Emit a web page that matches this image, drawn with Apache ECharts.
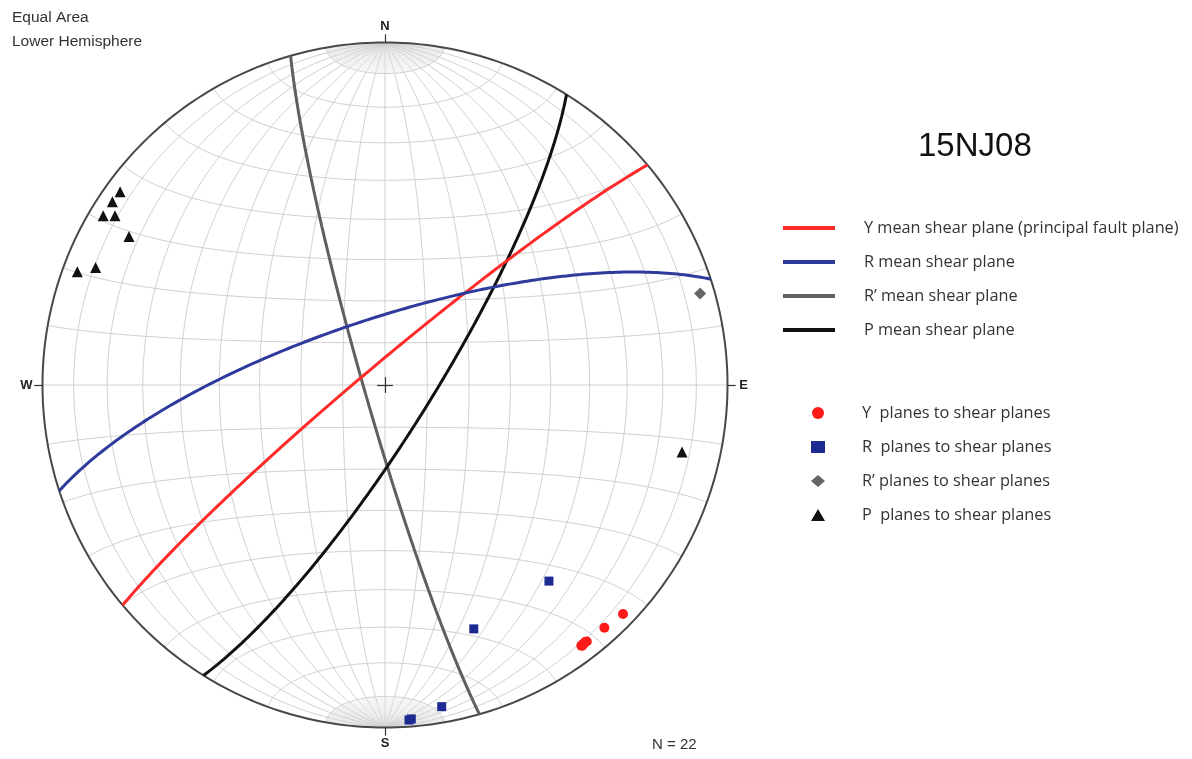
<!DOCTYPE html>
<html><head><meta charset="utf-8">
<script src="https://cdn.jsdelivr.net/npm/echarts@6/dist/echarts.min.js"></script>
<style>html,body{margin:0;padding:0;background:#fff}#c{width:1192px;height:759px}</style>
</head><body><div id="c"></div>
<script>
// ---- Mean shear planes (strike / dip, right-hand rule) ----
const planeNames = ['Y mean shear plane (principal fault plane)', 'R mean shear plane', 'R\u2019 mean shear plane', 'P mean shear plane'];
const planeStrikes = [230, 252, 164, 32];
const planeDips = [85, 74, 85, 79];
const planeColors = ['#ff2a2a', '#2f3b9c', '#5f5f5f', '#111111'];

// ---- Poles (trend / plunge) ----
const poleNames = ['Y  planes to shear planes', 'R  planes to shear planes', 'R\u2019 planes to shear planes', 'P  planes to shear planes'];
const yTrend = [133.9, 137.9, 141.8, 142.7, 143.0, 142.1, 142.9, 142.4];
const yPlunge = [4.0, 5.0, 5.3, 5.3, 5.3, 5.5, 5.1, 5.3];
const rTrend = [140.1, 160.0, 170.0, 175.9, 175.5];
const rPlunge = [26.3, 25.2, 5.2, 2.2, 2.5];
const rpTrend = [73.8];
const rpPlunge = [4.7];
const pTrend = [306.1, 303.9, 301.0, 302.1, 300.1, 290.2, 292.1, 102.7];
const pPlunge = [4.8, 4.6, 4.5, 7.7, 14.7, 4.8, 9.7, 12.1];
const poleSymbols = ['circle', 'rect', 'diamond', 'triangle'];
const poleColors = ['#ff1a1a', '#1c2a92', '#666666', '#111111'];

const cardinal = ['N', 'E', 'S', 'W'];
const nCount = 'N = 22';

// ---- equal-area (Schmidt) lower hemisphere projection ----
const R = Math.PI / 180;
function proj(e, n, d) { const k = 1 / Math.sqrt(1 + d); return [e * k, n * k]; }
function planePts(strike, dip) {
  const s = strike * R, dd = dip * R;
  const sv = [Math.sin(s), Math.cos(s), 0];
  const dv = [Math.cos(dd) * Math.sin(s + Math.PI / 2), Math.cos(dd) * Math.cos(s + Math.PI / 2), Math.sin(dd)];
  const pts = [];
  for (let a = 0; a <= 180; a += 1) {
    const ca = Math.cos(a * R), sa = Math.sin(a * R);
    pts.push(proj(ca * sv[0] + sa * dv[0], ca * sv[1] + sa * dv[1], Math.max(0, ca * sv[2] + sa * dv[2])));
  }
  return pts;
}
function polePt(t, p) {
  return proj(Math.cos(p * R) * Math.sin(t * R), Math.cos(p * R) * Math.cos(t * R), Math.sin(p * R));
}

// net
const netMain = [], netCap = [];
function meridian(D, side, a0, a1) {
  const pts = [];
  for (let a = a0; a <= a1 + 1e-9; a += 0.5) {
    const ca = Math.cos(a * R), sa = Math.sin(a * R);
    pts.push(proj(side * sa * Math.cos(D * R), ca, sa * Math.sin(D * R)));
  }
  return pts;
}
for (let D = 10; D <= 80; D += 10) for (const s of [1, -1]) netMain.push({ coords: meridian(D, s, 0, 180) });
for (let D = 2; D <= 88; D += 2) {
  if (D % 10 === 0) continue;
  for (const s of [1, -1]) { netCap.push({ coords: meridian(D, s, 0, 10) }); netCap.push({ coords: meridian(D, s, 170, 180) }); }
}
for (let c = 10; c <= 80; c += 10) for (const sg of [1, -1]) {
  const pts = [];
  for (let f = 0; f <= 180; f += 1) pts.push(proj(Math.sin(c * R) * Math.cos(f * R), sg * Math.cos(c * R), Math.sin(c * R) * Math.sin(f * R)));
  netMain.push({ coords: pts });
}
netMain.push({ coords: [[0, -1], [0, 1]] });
netMain.push({ coords: [[-1, 0], [1, 0]] });
const prim = [];
for (let f = 0; f <= 360; f += 1) prim.push([Math.cos(f * R), Math.sin(f * R)]);
const tk = 0.024;
const ticks = [
  { coords: [[0, 1], [0, 1 + tk]] }, { coords: [[0, -1], [0, -1 - tk]] },
  { coords: [[1, 0], [1 + tk, 0]] }, { coords: [[-1, 0], [-1 - tk, 0]] },
  { coords: [[-0.023, 0], [0.023, 0]] }, { coords: [[0, -0.023], [0, 0.023]] }
];
const cardPos = [[0, 1.047], [1.047, 0], [0, -1.047], [-1.047, 0]];

const series = [
  { type: 'lines', coordinateSystem: 'cartesian2d', polyline: true, silent: true, clip: false, data: netCap, lineStyle: { color: '#e2e2e2', width: 0.7, opacity: 1 }, z: 1 },
  { type: 'lines', coordinateSystem: 'cartesian2d', polyline: true, silent: true, clip: false, data: netMain, lineStyle: { color: '#cfcfcf', width: 1, opacity: 1 }, z: 2 },
  { type: 'lines', coordinateSystem: 'cartesian2d', polyline: true, silent: true, clip: false, data: [{ coords: prim }], lineStyle: { color: '#484848', width: 2, opacity: 1 }, z: 3 },
  { type: 'lines', coordinateSystem: 'cartesian2d', silent: true, clip: false, data: ticks, lineStyle: { color: '#333', width: 1.2, opacity: 1 }, z: 3 },
  { type: 'scatter', silent: true, clip: false, symbolSize: 1, z: 8,
    itemStyle: { color: 'rgba(0,0,0,0)', opacity: 1 },
    data: cardinal.map((c, i) => ({ name: c, value: cardPos[i] })),
    label: { show: true, position: 'inside', formatter: p => p.name, fontFamily: 'Liberation Sans', fontWeight: 'bold', fontSize: 13, color: '#222' } }
];
const planeOrder = [2, 3, 0, 1];
planeOrder.forEach(i => series.push({
  type: 'line', name: planeNames[i], data: planePts(planeStrikes[i], planeDips[i]), showSymbol: false, symbol: 'none', clip: false,
  color: planeColors[i], lineStyle: { color: planeColors[i], width: 3 }, z: 5, silent: true
}));
const poleT = [yTrend, rTrend, rpTrend, pTrend], poleP = [yPlunge, rPlunge, rpPlunge, pPlunge];
const poleSizes = [10, 9, 12, 11];
[3, 2, 1, 0].forEach(i => series.push({
  type: 'scatter', name: poleNames[i], symbol: poleSymbols[i], symbolSize: poleSizes[i], clip: false,
  data: poleT[i].map((t, k) => polePt(t, poleP[i][k])), color: poleColors[i], itemStyle: { color: poleColors[i], opacity: 1 }, z: 6, silent: true
}));

const legText = { fontFamily: 'Open Sans', fontSize: 16.3, color: '#333' };
const option = {
  animation: false,
  backgroundColor: '#fff',
  grid: { left: 42.5, top: 42.5, width: 685, height: 685, show: false },
  xAxis: { type: 'value', min: -1, max: 1, show: false },
  yAxis: { type: 'value', min: -1, max: 1, show: false },
  title: [
    { text: '15NJ08', left: 918, top: 130, padding: 0, textStyle: { fontFamily: 'Liberation Sans', fontSize: 33, fontWeight: 'normal', color: '#111' } },
    { text: 'Equal Area\nLower Hemisphere', left: 12, top: 6, padding: 0, textStyle: { fontFamily: 'Liberation Sans', fontSize: 15.5, lineHeight: 24, fontWeight: 'normal', color: '#333' } },
    { text: nCount, left: 652, top: 737, padding: 0, textStyle: { fontFamily: 'Liberation Sans', fontSize: 15, fontWeight: 'normal', color: '#333' } }
  ],
  legend: [
    { orient: 'vertical', left: 783, top: 220, padding: 0, itemWidth: 52, itemHeight: 4, itemGap: 18, icon: 'rect', selectedMode: false,
      data: planeNames, formatter: n => '{p|' + n + '}',
      textStyle: Object.assign({}, legText, { rich: { p: Object.assign({}, legText, { padding: [0, 0, 0, 24] }) } }) },
    { orient: 'vertical', left: 811, top: 405, padding: 0, itemWidth: 14, itemHeight: 12, itemGap: 18, selectedMode: false,
      data: poleNames.map((n, i) => ({ name: n, icon: poleSymbols[i] })), formatter: n => '{p|' + n + '}',
      itemStyle: { opacity: 1 },
      textStyle: Object.assign({}, legText, { rich: { p: Object.assign({}, legText, { padding: [0, 0, 0, 32] }) } }) }
  ],
  series: series
};
const chart = echarts.init(document.getElementById('c'), null, { renderer: 'canvas' });
chart.setOption(option);
</script>
</body></html>
